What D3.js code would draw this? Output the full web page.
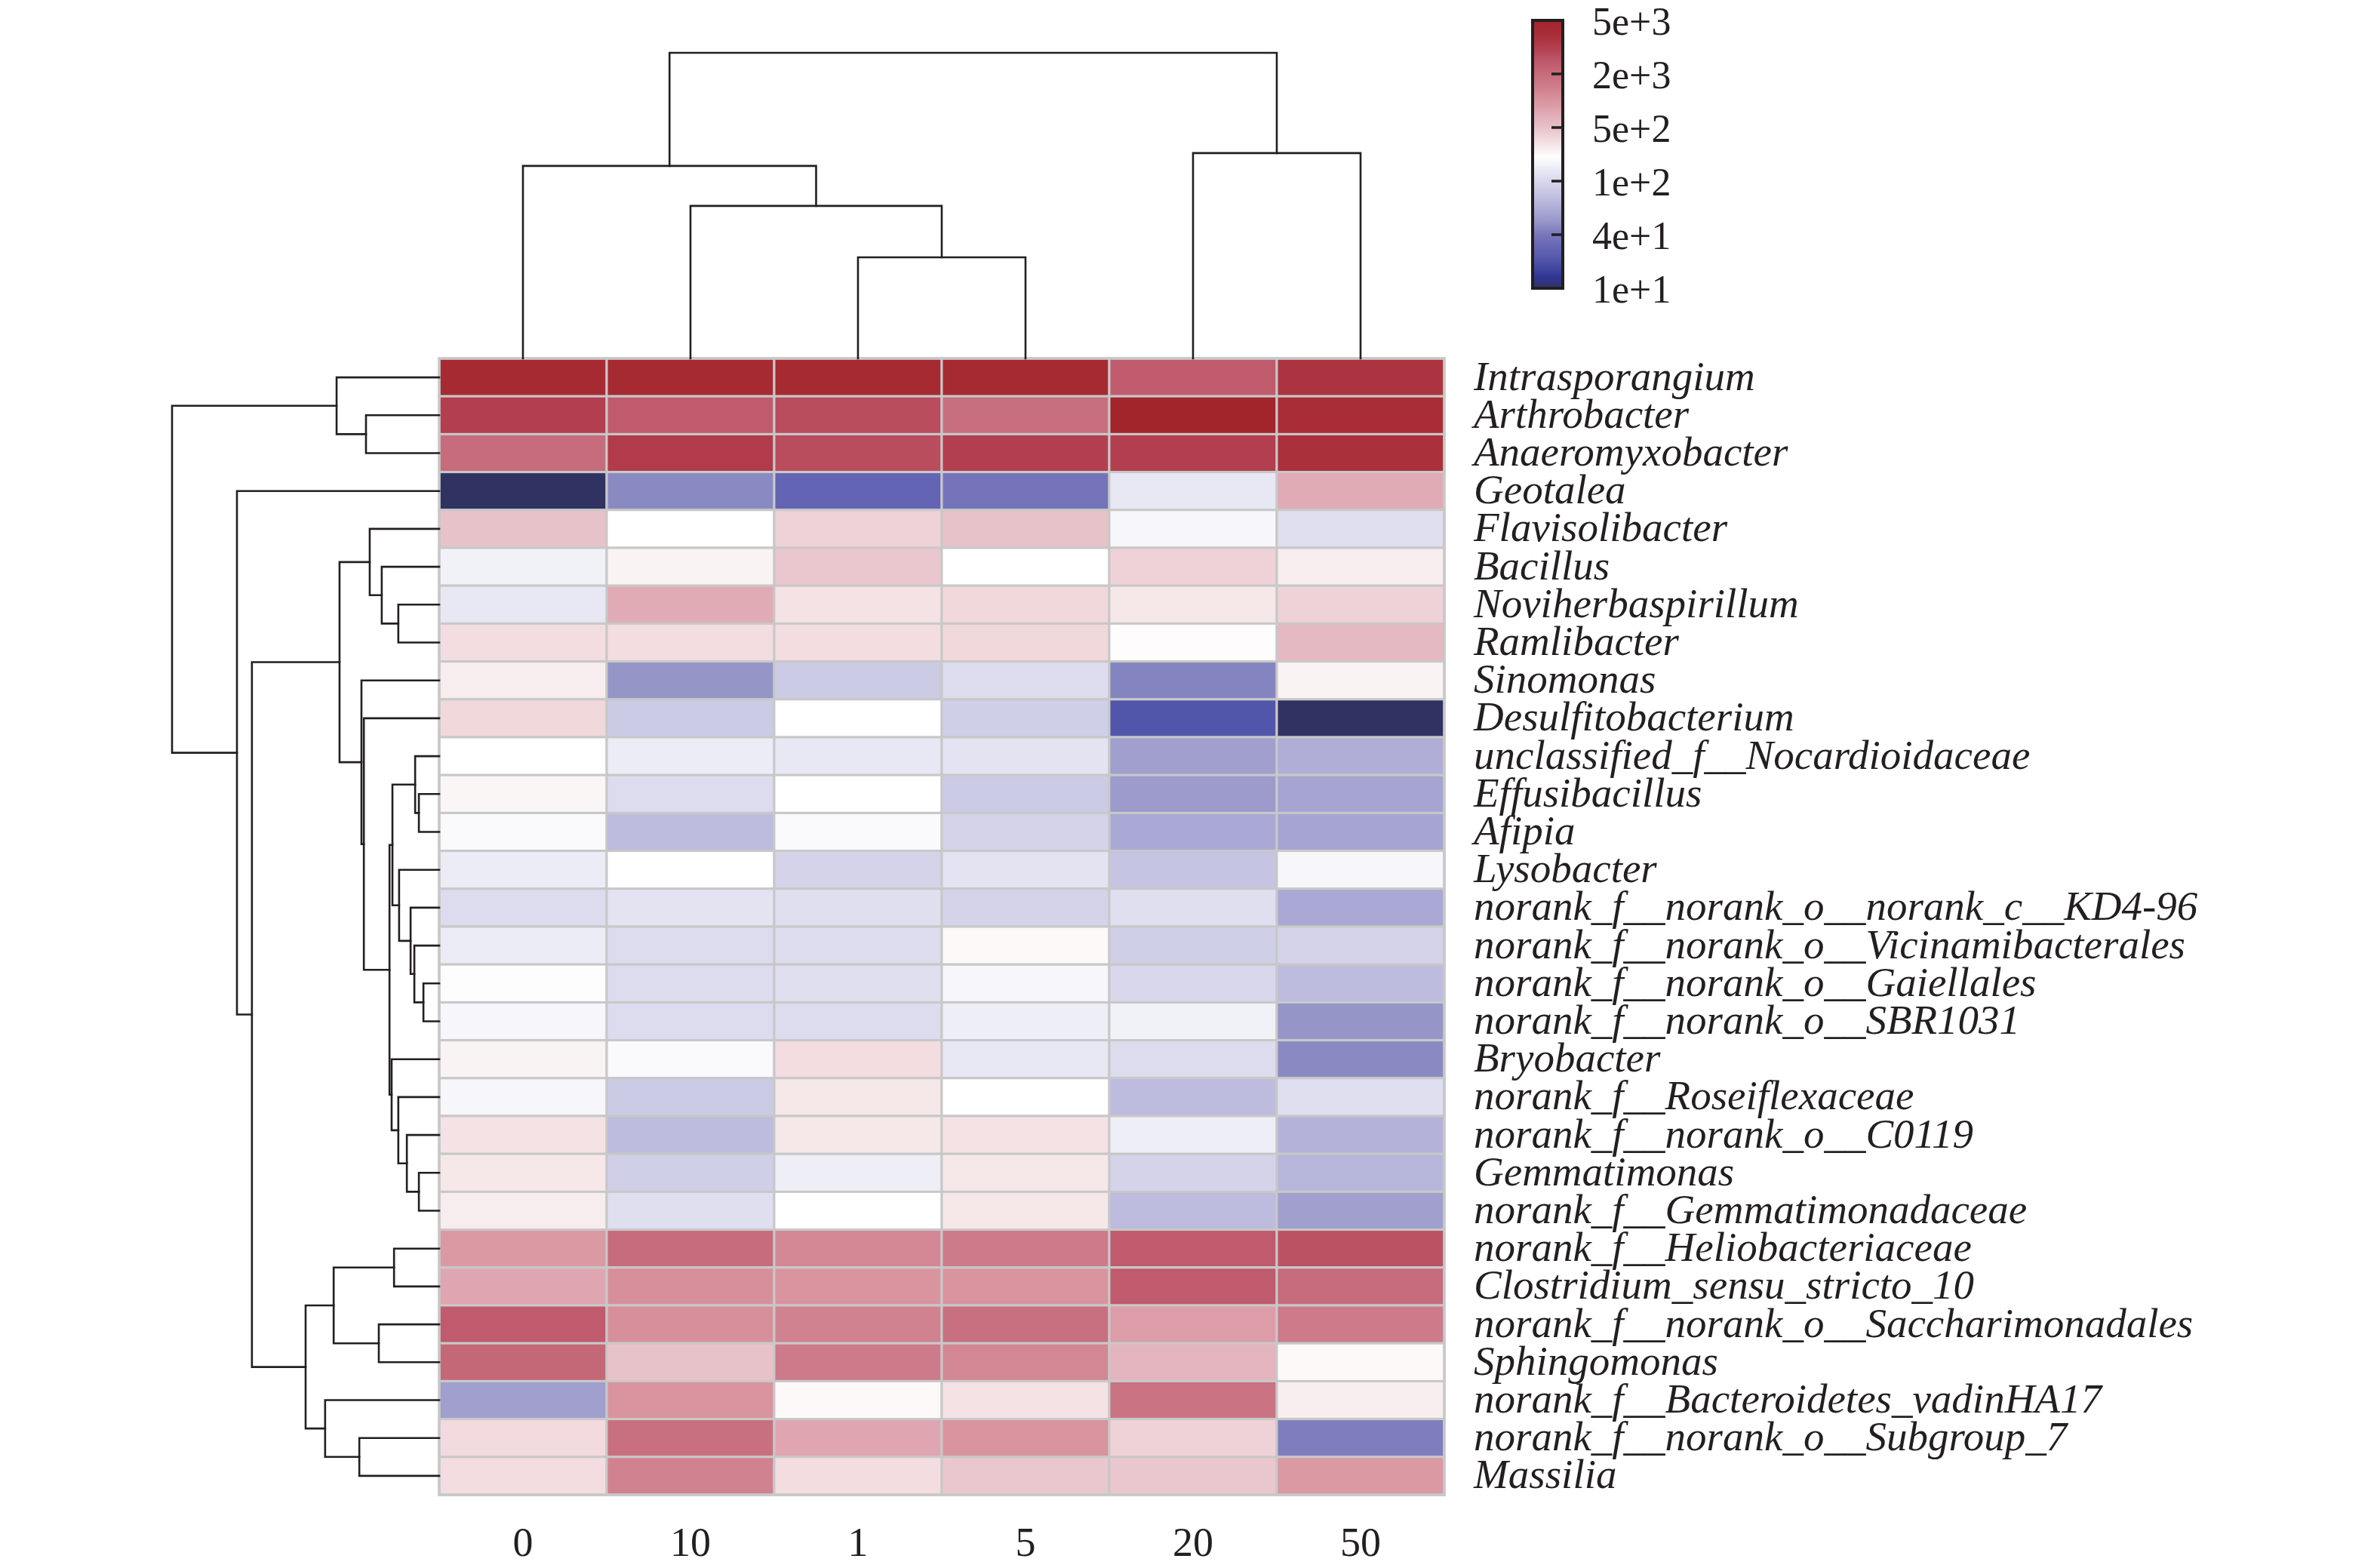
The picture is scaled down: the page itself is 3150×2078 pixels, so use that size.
<!DOCTYPE html>
<html><head><meta charset="utf-8">
<script src="https://cdn.jsdelivr.net/npm/d3@7"></script>
<style>html,body{margin:0;padding:0;background:#fff;} svg{display:block}</style>
</head><body>
<svg id="chart" width="3150" height="2078"></svg>
<script>
// ---------- data ----------
const samples = ["0", "10", "1", "5", "20", "50"];

const taxa = [
  "Intrasporangium", "Arthrobacter", "Anaeromyxobacter", "Geotalea", "Flavisolibacter",
  "Bacillus", "Noviherbaspirillum", "Ramlibacter", "Sinomonas", "Desulfitobacterium",
  "unclassified_f__Nocardioidaceae", "Effusibacillus", "Afipia", "Lysobacter",
  "norank_f__norank_o__norank_c__KD4-96", "norank_f__norank_o__Vicinamibacterales",
  "norank_f__norank_o__Gaiellales", "norank_f__norank_o__SBR1031", "Bryobacter",
  "norank_f__Roseiflexaceae", "norank_f__norank_o__C0119", "Gemmatimonas",
  "norank_f__Gemmatimonadaceae", "norank_f__Heliobacteriaceae", "Clostridium_sensu_stricto_10",
  "norank_f__norank_o__Saccharimonadales", "Sphingomonas", "norank_f__Bacteroidetes_vadinHA17",
  "norank_f__norank_o__Subgroup_7", "Massilia"
];

// abundance per taxon, columns in the order of `samples`
const abundance = [
  [4360, 4360, 4360, 4360, 2400, 3630],
  [3160, 2400, 2760, 1870, 5000, 3980],
  [2000, 3310, 2760, 3160, 3160, 3800],
  [10, 46, 28, 37, 138, 707],
  [500, 206, 393, 500, 176, 117],
  [162, 242, 462, 206, 393, 263],
  [138, 707, 309, 362, 285, 393],
  [334, 334, 334, 362, 215, 574],
  [263, 50, 87, 108, 44, 242],
  [362, 87, 206, 91, 21, 10],
  [206, 150, 138, 127, 55, 63],
  [233, 108, 206, 87, 53, 58],
  [190, 73, 190, 96, 60, 58],
  [150, 206, 96, 127, 80, 176],
  [108, 127, 117, 96, 117, 60],
  [150, 108, 108, 224, 91, 96],
  [198, 108, 117, 176, 100, 73],
  [176, 108, 108, 156, 162, 50],
  [242, 190, 334, 138, 108, 46],
  [176, 87, 285, 206, 73, 117],
  [309, 73, 285, 309, 156, 66],
  [285, 91, 156, 285, 96, 68],
  [263, 117, 206, 285, 73, 55],
  [933, 2000, 1231, 1516, 2402, 2633],
  [758, 1072, 1000, 1000, 2402, 2000],
  [2402, 1072, 1320, 1866, 871, 1516],
  [2094, 500, 1516, 1231, 616, 224],
  [55, 1000, 224, 309, 1741, 263],
  [348, 1866, 758, 1000, 393, 42],
  [334, 1320, 334, 462, 462, 933]
];

// hclust-style merges: negative = leaf (1-based), positive = earlier merge (1-based)
const rowMerge = [
  [-2, -3], [-1, 1], [-7, -8], [-6, 3], [-5, 4], [-12, -13], [-11, 6], [-17, -18],
  [-16, 8], [-15, 9], [-14, 10], [7, 11], [-22, -23], [-21, 13], [-20, 14], [-19, 15],
  [12, 16], [-10, 17], [-9, 18], [5, 19], [-24, -25], [-26, -27], [21, 22], [-29, -30],
  [-28, 24], [23, 25], [20, 26], [-4, 27], [2, 28]
];
const rowHeight = [
  2.74, 3.84, 1.53, 2.15, 2.60, 0.76, 0.90, 0.59,
  0.93, 1.07, 1.50, 1.75, 0.76, 1.21, 1.53, 1.78,
  1.86, 2.82, 2.91, 3.73, 1.69, 2.26, 3.95, 2.99,
  4.27, 5.00, 7.01, 7.57, 10.0
];

const colMerge = [[-3, -4], [-2, 1], [-1, 2], [-5, -6], [3, 4]];
const colHeight = [3.31, 4.99, 6.30, 6.72, 10.0];

const legendValues = [10, 40, 100, 500, 2000, 5000];
const legendLabels = ["1e+1", "4e+1", "1e+2", "5e+2", "2e+3", "5e+3"];

const colorStopT = [0, 0.04, 0.11, 0.15, 0.20, 0.25, 0.30, 0.35, 0.40, 0.45, 0.49,
                    0.52, 0.55, 0.60, 0.65, 0.70, 0.75, 0.80, 0.85, 0.90, 0.95, 1.0];
const colorStopHex = ["#303262", "#2f3592", "#5457ab", "#6464b3", "#7877bc", "#9696c8",
  "#b0aed7", "#c4c3e2", "#d9d7ec", "#ececf6", "#ffffff", "#f8edee", "#f3dde0", "#e8c2c9",
  "#e0abb5", "#d9949f", "#cf7e8d", "#c66c7c", "#bd5769", "#b33e4f", "#a82d36", "#a2252b"];

// ---------- layout ----------
const W = 3150, H = 2078;
const hm = { x0: 582, x1: 1914, y0: 475, y1: 1981 };
const ink = "#231f20";
const fontFam = "'Liberation Serif','Times New Roman',Times,serif";

const svg = d3.select("#chart");
svg.append("rect").attr("width", W).attr("height", H).attr("fill", "#fff");

const x = d3.scaleBand().domain(samples).range([hm.x0, hm.x1]);
const y = d3.scaleBand().domain(taxa).range([hm.y0, hm.y1]);
const tScale = d3.scaleLog().domain(legendValues).range([0, 0.2, 0.4, 0.6, 0.8, 1]).clamp(true);
const ramp = d3.scaleLinear().domain(colorStopT).range(colorStopHex).interpolate(d3.interpolateRgb);
const color = v => ramp(tScale(v));

// ---------- heatmap ----------
const cells = [];
taxa.forEach((t, i) => samples.forEach((s, j) => cells.push({ t, s, v: abundance[i][j] })));

svg.append("g").selectAll("rect").data(cells).join("rect")
  .attr("x", d => x(d.s)).attr("y", d => y(d.t))
  .attr("width", x.bandwidth()).attr("height", y.bandwidth())
  .attr("fill", d => color(d.v))
  .attr("stroke", "#c8c8c8").attr("stroke-width", 3);

svg.append("rect")
  .attr("x", hm.x0).attr("y", hm.y0)
  .attr("width", hm.x1 - hm.x0).attr("height", hm.y1 - hm.y0)
  .attr("fill", "none").attr("stroke", "#c8c8c8").attr("stroke-width", 3.5);

// ---------- dendrograms ----------
function buildSegments(merge, heights, leafPos) {
  const pos = [];
  const P = id => id < 0 ? leafPos(-id - 1) : pos[id - 1];
  const Hh = id => id < 0 ? 0 : heights[id - 1];
  return merge.map(([a, b], i) => {
    const seg = { pa: P(a), ha: Hh(a), pb: P(b), hb: Hh(b), h: heights[i] };
    pos[i] = (seg.pa + seg.pb) / 2;
    return seg;
  });
}

const rowH = d3.scaleLinear().domain([0, 10]).range([hm.x0, 228]);
const rowSegs = buildSegments(rowMerge, rowHeight, i => y(taxa[i]) + y.bandwidth() / 2);
svg.append("g").selectAll("path").data(rowSegs).join("path")
  .attr("d", d => `M${rowH(d.ha)},${d.pa}H${rowH(d.h)}V${d.pb}H${rowH(d.hb)}`)
  .attr("fill", "none").attr("stroke", ink).attr("stroke-width", 2.6)
  .attr("stroke-linecap", "square");

const colH = d3.scaleLinear().domain([0, 10]).range([hm.y0, 70]);
const colSegs = buildSegments(colMerge, colHeight, i => x(samples[i]) + x.bandwidth() / 2);
svg.append("g").selectAll("path").data(colSegs).join("path")
  .attr("d", d => `M${d.pa},${colH(d.ha)}V${colH(d.h)}H${d.pb}V${colH(d.hb)}`)
  .attr("fill", "none").attr("stroke", ink).attr("stroke-width", 2.6)
  .attr("stroke-linecap", "square");

// ---------- labels ----------
svg.append("g").selectAll("text").data(taxa).join("text")
  .attr("x", 1953).attr("y", d => y(d) + y.bandwidth() / 2)
  .attr("dy", "0.3em")
  .attr("font-family", fontFam).attr("font-style", "italic")
  .attr("font-size", 55).attr("fill", ink)
  .text(d => d);

svg.append("g").selectAll("text").data(samples).join("text")
  .attr("x", d => x(d) + x.bandwidth() / 2).attr("y", 2062)
  .attr("text-anchor", "middle")
  .attr("font-family", fontFam).attr("font-size", 54).attr("fill", ink)
  .text(d => d);

// ---------- colour bar ----------
const cb = { x: 2031, y0: 27, y1: 382, w: 40 };
const legY = d3.scaleLog().domain(legendValues)
  .range(d3.range(legendValues.length).map(i => cb.y1 - (cb.y1 - cb.y0) * i / (legendValues.length - 1)));

const grad = svg.append("defs").append("linearGradient")
  .attr("id", "cbar").attr("x1", 0).attr("y1", 0).attr("x2", 0).attr("y2", 1);
grad.selectAll("stop").data(d3.range(0, 1.0001, 0.01)).join("stop")
  .attr("offset", d => d)
  .attr("stop-color", d => ramp(1 - d));

svg.append("rect")
  .attr("x", cb.x).attr("y", cb.y0).attr("width", cb.w).attr("height", cb.y1 - cb.y0)
  .attr("fill", "url(#cbar)").attr("stroke", ink).attr("stroke-width", 4);

svg.append("g").selectAll("line").data(legendValues.slice(1, -1)).join("line")
  .attr("x1", cb.x + cb.w - 15).attr("x2", cb.x + cb.w)
  .attr("y1", d => legY(d)).attr("y2", d => legY(d))
  .attr("stroke", ink).attr("stroke-width", 3.5);

svg.append("g").selectAll("text").data(legendValues).join("text")
  .attr("x", 2110).attr("y", d => legY(d)).attr("dy", "0.37em")
  .attr("font-family", fontFam).attr("font-size", 52).attr("fill", ink)
  .text((d, i) => legendLabels[i]);
</script>
</body></html>
